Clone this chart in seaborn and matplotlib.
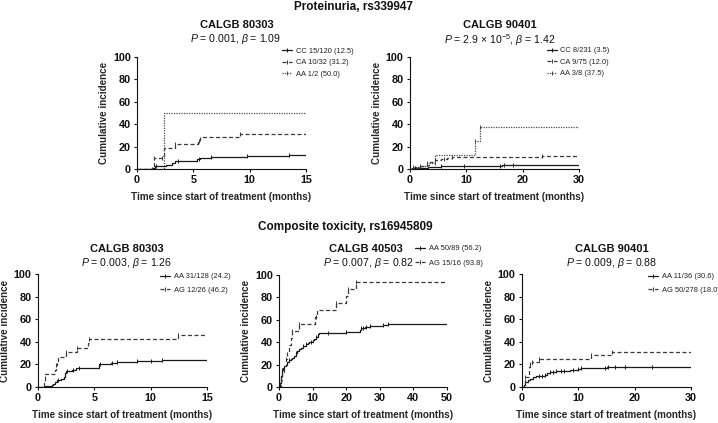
import numpy as np
import matplotlib
matplotlib.use("Agg")
import matplotlib.pyplot as plt
from matplotlib.lines import Line2D
import seaborn as sns

sns.set_style("ticks")
plt.rcParams['font.family'] = ['Liberation Sans', 'DejaVu Sans']
plt.rcParams['mathtext.fontset'] = 'custom'
plt.rcParams['mathtext.rm'] = 'Liberation Sans'
plt.rcParams['mathtext.it'] = 'Liberation Sans:italic'
plt.rcParams['mathtext.bf'] = 'Liberation Sans:bold'

# ---------------- Data ----------------
# Proteinuria, CALGB 80303
p1_cc_t = [0, 1.3, 1.6, 2.6, 3.1, 3.4, 5.3, 5.6, 6.6, 9.8, 13.5, 15]
p1_cc_y = [0, 1, 2.5, 3.5, 5, 7.5, 8.5, 10, 11, 12, 12.5, 12.5]
p1_cc_c = [1.7, 3.6, 5.5, 6.6, 9.8, 13.5]
p1_ca_t = [0, 1.3, 1.5, 2.3, 2.4, 3.4, 5.4, 5.6, 9.1, 15]
p1_ca_y = [0, 3, 10, 12, 19, 22, 25, 28.5, 31.2, 31.2]
p1_ca_c = [1.5, 2.2, 3.4, 5.5, 9.1]
p1_aa_t = [0, 2.4, 15]
p1_aa_y = [0, 50, 50]
p1_aa_c = []
p1_labels = ["CC 15/120 (12.5)", "CA 10/32 (31.2)", "AA 1/2 (50.0)"]

# Proteinuria, CALGB 90401
p2_cc_t = [0, 0.3, 1.0, 3.2, 5.5, 16.3, 30]
p2_cc_y = [0, 0.5, 1, 2, 3, 3.5, 3.5]
p2_cc_c = [0.8, 5.5, 9.5, 16.0, 16.6, 18.3]
p2_ca_t = [0, 0.5, 1.5, 2.0, 3.0, 3.5, 4.5, 5.5, 6.5, 7.5, 23.4, 30]
p2_ca_y = [0, 1, 2, 3, 4, 6, 8, 9, 10, 11, 12, 12]
p2_ca_c = [1.8, 4.5, 6.0, 7.5, 23.4]
p2_aa_t = [0, 0.6, 1.7, 3.0, 4.5, 11.6, 12.5, 30]
p2_aa_y = [0, 1.5, 3, 5, 12.5, 25, 37.5, 37.5]
p2_aa_c = [0.6, 1.7, 3.0, 4.4, 11.6, 12.5]
p2_labels = ["CC 8/231 (3.5)", "CA 9/75 (12.0)", "AA 3/8 (37.5)"]

# Composite toxicity, CALGB 80303
p3_aa_t = [0, 0.6, 1.2, 1.3, 1.5, 1.7, 2.0, 2.3, 2.4, 2.5, 3.0, 3.4, 5.4, 6.5, 7.0, 8.8, 11.0, 15]
p3_aa_y = [0, 0.8, 1.6, 3, 4.5, 6, 7, 9, 12, 14, 15, 17, 20, 21.5, 22.5, 23.3, 24.2, 24.2]
p3_aa_c = [1.8, 2.6, 3.1, 3.6, 5.5, 6.6, 7.0, 8.8, 10.0, 11.0]
p3_ag_t = [0, 0.55, 0.6, 0.65, 1.5, 1.6, 1.65, 1.8, 2.5, 3.5, 4.4, 4.5, 12.4, 15]
p3_ag_y = [0, 3.85, 7.7, 11.5, 15.4, 19.2, 23.1, 26.9, 30.8, 34.6, 38.5, 42.3, 46.2, 46.2]
p3_ag_c = [0.6, 1.6, 2.5, 3.5, 4.5, 12.4]
p3_labels = ["AA 31/128 (24.2)", "AG 12/26 (46.2)"]

# Composite toxicity, CALGB 40503
p4_aa_t = [0, 0.3, 0.6, 0.9, 1.2, 1.6, 2.0, 2.5, 3.0, 3.5, 4.0, 4.5, 5.0, 5.5, 6.0, 6.5, 7.0,
           8.0, 8.5, 9.0, 10.0, 10.5, 11.0, 11.5, 12.0, 20.0, 24.0, 24.5, 25.5, 27.0, 31.0, 32.5, 50]
p4_aa_y = [0, 4, 10, 15, 17, 19, 20, 22, 24, 25, 26, 28, 30, 32, 34, 35, 37,
           38, 39, 40, 42, 43, 45, 47, 48, 49.5, 51, 52.5, 53.5, 54.5, 55.5, 56.2, 56.2]
p4_aa_c = [1.0, 3.0, 5.0, 7.0, 8.0, 9.5, 11.0, 14.5, 20.0, 24.5, 25.0, 26.0, 27.0, 31.0, 32.5]
p4_ag_t = [0, 0.5, 1.0, 1.5, 2.0, 2.5, 3.0, 3.5, 4.0, 6.0, 10.8, 11.2, 17.0, 20.0, 20.5, 23.0, 50]
p4_ag_y = [0, 6.25, 12.5, 18.75, 25, 31.25, 37.5, 43.75, 50, 56.25, 62.5, 68.75, 75, 81.25, 87.5, 93.75, 93.75]
p4_ag_c = [2.0, 4.0, 6.0, 11.0, 17.0, 20.5, 23.0]
p4_labels = ["AA 50/89 (56.2)", "AG 15/16 (93.8)"]

# Composite toxicity, CALGB 90401
p5_aa_t = [0, 0.3, 0.6, 1.0, 1.5, 2.0, 2.5, 3.0, 4.0, 4.5, 5.0, 6.0, 7.5, 8.5, 10.0, 10.5, 15.0, 18.3, 30]
p5_aa_y = [0, 2, 4, 6, 7.5, 8.5, 9.5, 10, 11, 12, 13, 14, 14.5, 15, 16, 17, 17.5, 18, 18]
p5_aa_c = [3.0, 3.5, 4.0, 5.0, 5.5, 6.0, 7.0, 7.5, 9.0, 10.0, 10.5, 14.8, 15.2, 16.5, 18.3, 23.0]
p5_ag_t = [0, 0.3, 0.6, 1.2, 1.4, 1.8, 3.0, 12.3, 16.0, 30]
p5_ag_y = [0, 3, 9, 18, 20, 22.5, 25, 28, 30.6, 30.6]
p5_ag_c = [0.6, 1.4, 1.8, 3.0, 12.3, 16.0]
p5_labels = ["AA 11/36 (30.6)", "AG 50/278 (18.0)"]

# ---------------- Styles ----------------
STY = {
    'solid': dict(color='#1a1a1a', dashes=None),
    'dash': dict(color='#3a3a3a', dashes=(3.2, 2.0)),
    'dot': dict(color='#4a4a4a', dashes=(1.0, 1.0)),
}

W, H = 718, 423
fig = plt.figure(figsize=(W / 100, H / 100), dpi=100)


def px_ax(l, r, t, b):
    return fig.add_axes([l / W, 1 - b / H, (r - l) / W, (b - t) / H])


def step_val(tt, yy, c):
    idx = np.searchsorted(np.asarray(tt), c, side='right') - 1
    return np.asarray(yy)[idx]


def draw(ax, series, xmax, xticks):
    for tt, yy, cc, sty in series:
        s = STY[sty]
        sns.lineplot(x=tt, y=yy, ax=ax, drawstyle='steps-post', estimator=None,
                     sort=False, legend=False, color=s['color'], linewidth=0.9)
        ln = ax.lines[-1]
        if s['dashes'] is not None:
            ln.set_dashes(s['dashes'])
        if len(cc):
            cy = step_val(tt, yy, np.asarray(cc))
            ax.plot(cc, cy, ls='none', marker='|', ms=3.2, mew=0.7, color=s['color'])
    ax.set_xlim(0, xmax)
    ax.set_ylim(0, 100)
    ax.set_xticks(xticks)
    ax.set_yticks([0, 20, 40, 60, 80, 100])
    ax.tick_params(labelsize=7.8, length=2.5, width=0.8, pad=2, colors='#111')
    for lab in ax.get_xticklabels() + ax.get_yticklabels():
        lab.set_fontweight('bold')
    ax.set_xlabel("Time since start of treatment (months)", fontsize=7.1, fontweight='bold', labelpad=5)
    ax.set_ylabel("Cumulative incidence", fontsize=7.1, fontweight='bold', labelpad=3)
    for sp in ['top', 'right']:
        ax.spines[sp].set_visible(False)
    for sp in ['left', 'bottom']:
        ax.spines[sp].set_linewidth(0.8)
        ax.spines[sp].set_color('#111')
    ax.set_facecolor('none')


def legend(ax, labels, stys, x, y, spacing):
    hs = []
    for s in stys:
        st = STY[s]
        h = Line2D([], [], color=st['color'], lw=0.9, marker='|', ms=3.2, mew=0.7)
        if st['dashes'] is not None:
            h.set_dashes(st['dashes'])
        hs.append(h)
    ax.legend(hs, labels, loc='upper left', bbox_to_anchor=(x / W, 1 - y / H),
              bbox_transform=fig.transFigure, frameon=False, fontsize=5.4,
              handlelength=1.35, handletextpad=0.45, borderpad=0, borderaxespad=0,
              labelspacing=spacing, labelcolor='#222')


def ftext(x, y, s, **kw):
    kw.setdefault('va', 'center')
    fig.text(x / W, 1 - y / H, s, ha='center', color='#111', **kw)


# Panel 1
ax1 = px_ax(137, 306, 57, 169)
draw(ax1, [(p1_cc_t, p1_cc_y, p1_cc_c, 'solid'),
           (p1_ca_t, p1_ca_y, p1_ca_c, 'dash'),
           (p1_aa_t, p1_aa_y, p1_aa_c, 'dot')], 15, [0, 5, 10, 15])
legend(ax1, p1_labels, ['solid', 'dash', 'dot'], 282, 47.5, 0.58)
ftext(237, 25, "CALGB 80303", fontsize=8, fontweight='bold')
ftext(236, 39.5, r"$P$ = 0.001, $\beta$ = 1.09", fontsize=7.6)

# Panel 2
ax2 = px_ax(410, 579, 57, 169)
draw(ax2, [(p2_cc_t, p2_cc_y, p2_cc_c, 'solid'),
           (p2_ca_t, p2_ca_y, p2_ca_c, 'dash'),
           (p2_aa_t, p2_aa_y, p2_aa_c, 'dot')], 30, [0, 10, 20, 30])
legend(ax2, p2_labels, ['solid', 'dash', 'dot'], 547, 47, 0.58)
ftext(500, 25, "CALGB 90401", fontsize=8, fontweight='bold')
ftext(500, 40, r"$P$ = 2.9 × 10$^{-5}$, $\beta$ = 1.42", fontsize=7.6)

ftext(353, 9.5, "Proteinuria, rs339947", fontsize=8.5, fontweight='bold', va='baseline')

# Panel 3
ax3 = px_ax(38, 207, 274, 387)
draw(ax3, [(p3_aa_t, p3_aa_y, p3_aa_c, 'solid'),
           (p3_ag_t, p3_ag_y, p3_ag_c, 'dash')], 15, [0, 5, 10, 15])
legend(ax3, p3_labels, ['solid', 'dash'], 160, 273, 0.85)
ftext(127, 249, "CALGB 80303", fontsize=8, fontweight='bold')
ftext(127, 263.5, r"$P$ = 0.003, $\beta$ = 1.26", fontsize=7.6)

# Panel 4
ax4 = px_ax(279, 447, 275, 387)
draw(ax4, [(p4_aa_t, p4_aa_y, p4_aa_c, 'solid'),
           (p4_ag_t, p4_ag_y, p4_ag_c, 'dash')], 50, [0, 10, 20, 30, 40, 50])
legend(ax4, p4_labels, ['solid', 'dash'], 415, 245, 0.95)
ftext(366, 249, "CALGB 40503", fontsize=8, fontweight='bold')
ftext(368, 263.5, r"$P$ = 0.007, $\beta$ = 0.82", fontsize=7.6)

ftext(345, 227, "Composite toxicity, rs16945809", fontsize=8.5, fontweight='bold')

# Panel 5
ax5 = px_ax(522, 691, 274, 387)
draw(ax5, [(p5_aa_t, p5_aa_y, p5_aa_c, 'solid'),
           (p5_ag_t, p5_ag_y, p5_ag_c, 'dash')], 30, [0, 10, 20, 30])
legend(ax5, p5_labels, ['solid', 'dash'], 648, 273, 0.85)
ftext(612, 249, "CALGB 90401", fontsize=8, fontweight='bold')
ftext(612, 263.5, r"$P$ = 0.009, $\beta$ = 0.88", fontsize=7.6)

fig.savefig("out.png", dpi=100, facecolor='white')
